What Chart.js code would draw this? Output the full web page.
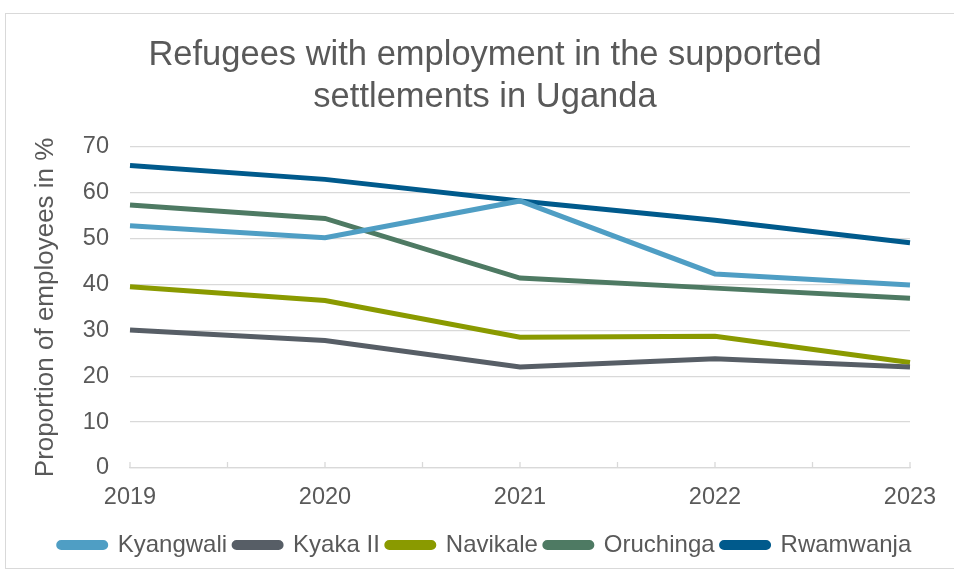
<!DOCTYPE html>
<html>
<head>
<meta charset="utf-8">
<script src="https://cdn.jsdelivr.net/npm/chart.js@4.4.1/dist/chart.umd.min.js"></script>
<style>
  html, body { margin: 0; padding: 0; background: #ffffff; }
  #wrap { position: relative; width: 954px; height: 573px; overflow: hidden; }
  #frame { position: absolute; left: 5px; top: 13px; width: 1000px; height: 556px; border: 1px solid #D9D9D9; box-sizing: border-box; }
  canvas { position: absolute; left: 0; top: 0; }
</style>
</head>
<body>
<div id="wrap">
  <div id="frame"></div>
  <canvas id="c" width="954" height="573"></canvas>
</div>
<script>
const categories = ["2019", "2020", "2021", "2022", "2023"];
const seriesNames = ["Kyangwali", "Kyaka II", "Navikale", "Oruchinga", "Rwamwanja"];
const kyangwali = [52.8, 50.2, 58.2, 42.3, 39.9];
const kyakaII   = [30.1, 27.8, 22.0, 23.8, 22.0];
const navikale  = [39.5, 36.5, 28.5, 28.7, 23.0];
const oruchinga = [57.3, 54.4, 41.4, 39.2, 37.0];
const rwamwanja = [65.9, 62.9, 58.2, 54.0, 49.1];
const yTicks = [0, 10, 20, 30, 40, 50, 60, 70];

const colors = ["#4F9EC4", "#575E66", "#8A9A00", "#4E7A63", "#005A8C"];
const values = [kyangwali, kyakaII, navikale, oruchinga, rwamwanja];

const textColor = "#595959";
const fontFamily = "'Liberation Sans', Arial, sans-serif";

const halfTicks = {
  id: 'halfTicks',
  afterDraw(chart) {
    const x = chart.scales.x, y = chart.scales.y;
    const ctx = chart.ctx;
    const y0 = y.getPixelForValue(0);
    ctx.save();
    ctx.strokeStyle = "#D9D9D9";
    ctx.lineWidth = 1.3;
    for (let i = 0; i <= (categories.length - 1) * 2; i++) {
      const px = x.getPixelForValue(i / 2);
      ctx.beginPath();
      ctx.moveTo(px, y0);
      ctx.lineTo(px, y0 - 6);
      ctx.stroke();
    }
    ctx.restore();
  }
};

new Chart(document.getElementById('c'), {
  type: 'line',
  data: {
    labels: categories,
    datasets: seriesNames.map((n, i) => ({
      label: n,
      data: values[i],
      borderColor: colors[i],
      backgroundColor: colors[i],
      borderWidth: 5,
      pointRadius: 0,
      tension: 0,
      fill: false,
      yAxisID: 'y'
    }))
  },
  plugins: [halfTicks],
  options: {
    responsive: false,
    animation: false,
    layout: { padding: { left: 28, right: 12, top: 0, bottom: 6 } },
    plugins: {
      title: {
        display: true,
        text: ["Refugees with employment in the supported", "settlements in Uganda"],
        color: textColor,
        font: { family: fontFamily, size: 34.5, weight: 'normal', lineHeight: 1.2 },
        padding: { top: 35, bottom: 29 }
      },
      legend: {
        position: 'bottom',
        labels: {
          color: textColor,
          font: { family: fontFamily, size: 24 },
          boxWidth: 47,
          boxHeight: 5,
          useBorderRadius: true,
          borderRadius: 2.5,
          padding: 7
        }
      },
      tooltip: { enabled: false }
    },
    scales: {
      x: {
        type: 'category',
        offset: false,
        grid: { display: false, drawTicks: false },
        border: { display: true, color: "#D9D9D9", width: 1.3 },
        ticks: { color: textColor, font: { family: fontFamily, size: 23.5 }, padding: 15, maxRotation: 0 },
        afterFit(scale) { scale.height = 58; }
      },
      y: {
        min: 0, max: 70,
        afterBuildTicks(scale) { scale.ticks = yTicks.map(v => ({ value: v })); },
        grid: { color: "#D9D9D9", lineWidth: 1.3, drawTicks: false },
        border: { display: false },
        ticks: { color: textColor, font: { family: fontFamily, size: 23.5 }, padding: 21 },
        title: {
          display: true,
          text: "Proportion of employees in %",
          color: textColor,
          font: { family: fontFamily, size: 26 },
          padding: { top: 2, bottom: 4 }
        },
        afterFit(scale) { scale.width = 102; }
      },
      yRight: {
        position: 'right',
        display: true,
        min: 0, max: 70,
        grid: { display: false, drawTicks: false },
        border: { display: false },
        ticks: { display: false },
        afterFit(scale) { scale.width = 32; }
      }
    }
  }
});
</script>
</body>
</html>
